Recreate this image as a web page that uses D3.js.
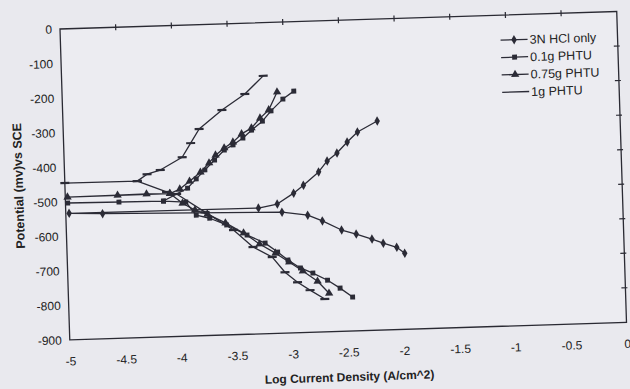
<!DOCTYPE html>
<html>
<head>
<meta charset="utf-8">
<script src="https://cdn.jsdelivr.net/npm/d3@7"></script>
<style>
  body { margin: 0; background: #e9e9ee; }
  svg { display: block; }
  text { font-family: "Liberation Sans", Arial, sans-serif; fill: #222; }
</style>
</head>
<body>
<div id="chart"></div>
<script>
// data (log i in A/cm^2, E in mV vs SCE), in sweep order:
// cathodic end -> corrosion potential -> anodic end
const seriesNames = ["3N HCl only", "0.1g PHTU", "0.75g PHTU", "1g PHTU"];

const hclLogI = [-1.97, -2.04, -2.16, -2.26, -2.40, -2.53, -2.70, -2.83, -3.06, -4.67, -4.97, -3.27, -3.10, -2.95, -2.86, -2.72, -2.64, -2.55, -2.455, -2.36, -2.18];
const hclPot  = [-680, -662, -649, -636, -620, -607, -579, -561, -550, -538, -534, -536, -526, -496, -474, -437, -406, -384, -353, -325, -295];

const p01LogI = [-2.45, -2.56, -2.67, -2.80, -2.91, -3.02, -3.11, -3.22, -3.38, -3.56, -3.71, -3.83, -3.92, -4.12, -4.52, -4.98, -4.12, -3.90, -3.82, -3.74, -3.65, -3.56, -3.48, -3.39, -3.31, -3.21, -3.13, -3.02, -2.92];
const p01Pot  = [-802, -775, -751, -729, -713, -689, -665, -638, -613, -582, -561, -551, -512, -507, -506, -504, -507, -472, -446, -421, -393, -365, -351, -332, -310, -285, -256, -223, -201];

const p075LogI = [-2.66, -2.76, -2.89, -3.01, -3.13, -3.27, -3.41, -3.57, -3.73, -3.84, -3.95, -4.06, -4.27, -4.53, -4.98, -4.06, -3.97, -3.88, -3.78, -3.70, -3.64, -3.56, -3.48, -3.40, -3.31, -3.23, -3.15, -3.07];
const p075Pot  = [-789, -753, -722, -695, -668, -640, -607, -576, -549, -536, -515, -486, -485, -486, -487, -486, -474, -452, -427, -401, -379, -359, -343, -320, -304, -276, -253, -202];

const p1LogI = [-2.70, -2.83, -2.94, -3.05, -3.16, -3.33, -3.50, -3.75, -4.00, -4.09, -4.35, -5.00, -4.35, -4.26, -4.14, -3.94, -3.86, -3.78, -3.57, -3.36, -3.19];
const p1Pot  = [-805, -778, -754, -724, -679, -648, -597, -543, -488, -481, -447, -446, -447, -428, -417, -382, -342, -302, -249, -205, -154];

const xTicks = [-5, -4.5, -4, -3.5, -3, -2.5, -2, -1.5, -1, -0.5, 0];
const yTicks = [0, -100, -200, -300, -400, -500, -600, -700, -800, -900];

const W = 630, H = 389;
const plotW = 557, plotH = 311;

const svg = d3.select("#chart").append("svg").attr("width", W).attr("height", H);

// the scanned page is slightly tilted
const g = svg.append("g").attr("transform", "translate(60,29) rotate(-1.8)");

const x = d3.scaleLinear().domain([-5, 0]).range([0, plotW]);
const y = d3.scaleLinear().domain([-900, 0]).range([plotH, 0]);

g.append("rect")
  .attr("width", plotW).attr("height", plotH)
  .attr("fill", "#ececf1").attr("stroke", "#2a2a33").attr("stroke-width", 1.3);

// axis labels (axes cross at 0, so ticks sit on top and right edges)
const fmt = d => String(d);
const xAxis = g.append("g").attr("transform", `translate(0,${plotH})`)
  .call(d3.axisBottom(x).tickValues(xTicks).tickSize(0).tickPadding(17).tickFormat(fmt));
const yAxis = g.append("g")
  .call(d3.axisLeft(y).tickValues(yTicks).tickSize(0).tickPadding(8).tickFormat(fmt));
[xAxis, yAxis].forEach(a => {
  a.select(".domain").remove();
  a.selectAll("text").attr("font-size", 12).attr("fill", "#222")
    .attr("font-family", "'Liberation Sans', Arial, sans-serif");
});

g.append("g").selectAll("line").data(xTicks.slice(1, -1)).join("line")
  .attr("x1", d => x(d)).attr("x2", d => x(d)).attr("y1", -3).attr("y2", 3)
  .attr("stroke", "#2a2a33").attr("stroke-width", 1.2);
g.append("g").selectAll("line").data(yTicks.slice(1, -1)).join("line")
  .attr("x1", plotW - 4).attr("x2", plotW + 2).attr("y1", d => y(d)).attr("y2", d => y(d))
  .attr("stroke", "#2a2a33").attr("stroke-width", 1.2);

g.append("text")
  .attr("x", plotW / 2).attr("y", plotH + 50)
  .attr("text-anchor", "middle").attr("font-size", 12).attr("font-weight", "bold")
  .text("Log Current Density (A/cm^2)");
g.append("text")
  .attr("transform", `translate(-42,${plotH / 2}) rotate(-90)`)
  .attr("text-anchor", "middle").attr("font-size", 12.5).attr("font-weight", "bold")
  .text("Potential (mv)vs SCE");

const series = [
  { name: seriesNames[0], xs: hclLogI, ys: hclPot, marker: "diamond" },
  { name: seriesNames[1], xs: p01LogI, ys: p01Pot, marker: "square" },
  { name: seriesNames[2], xs: p075LogI, ys: p075Pot, marker: "triangle" },
  { name: seriesNames[3], xs: p1LogI, ys: p1Pot, marker: "dash" }
];

const ink = "#2b2b36";
const line = d3.line().x(d => x(d[0])).y(d => y(d[1]));

function drawMarker(sel, type) {
  if (type === "dash") {
    sel.append("rect").attr("x", -4.5).attr("y", -1.1).attr("width", 9).attr("height", 2.2).attr("fill", ink);
    return;
  }
  const sym = { diamond: d3.symbolDiamond, square: d3.symbolSquare, triangle: d3.symbolTriangle }[type];
  const size = { diamond: 26, square: 24, triangle: 30 }[type];
  sel.append("path").attr("d", d3.symbol(sym, size)()).attr("fill", ink);
}

series.forEach(s => {
  const pts = s.xs.map((v, i) => [v, s.ys[i]]);
  g.append("path").datum(pts)
    .attr("d", line).attr("fill", "none")
    .attr("stroke", ink).attr("stroke-width", 1.3).attr("stroke-linejoin", "round");
  const mk = g.append("g").selectAll("g").data(pts).join("g")
    .attr("transform", d => `translate(${x(d[0])},${y(d[1])})`);
  mk.each(function () { drawMarker(d3.select(this), s.marker); });
});

// legend
const leg = g.append("g").attr("transform", "translate(440,25)");
series.forEach((s, i) => {
  const row = leg.append("g").attr("transform", `translate(0,${i * 17.4})`);
  row.append("line").attr("x1", 0).attr("x2", 27).attr("stroke", ink).attr("stroke-width", 1.3);
  if (s.marker !== "dash") drawMarker(row.append("g").attr("transform", "translate(13.5,0)"), s.marker);
  row.append("text").attr("x", 29).attr("y", 4.5).attr("font-size", 12.5).text(s.name);
});
</script>
</body>
</html>
